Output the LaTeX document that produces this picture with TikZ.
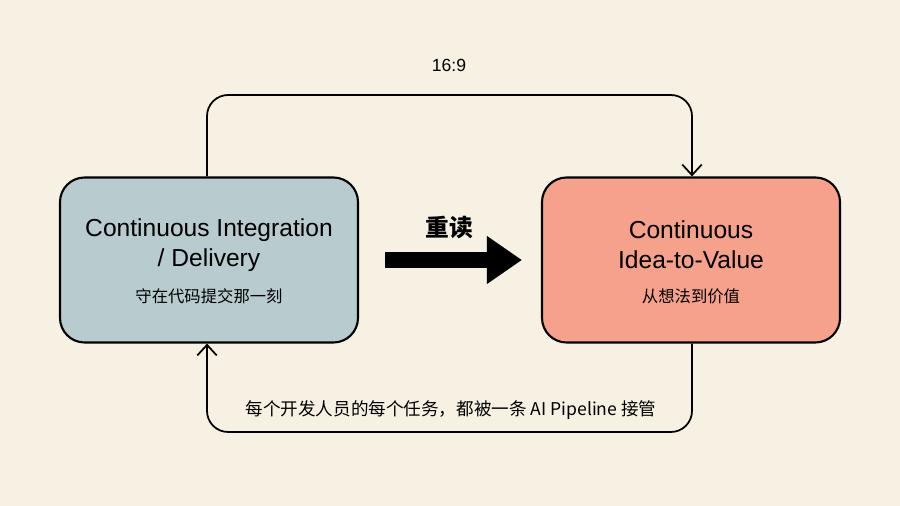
\documentclass[tikz,border=0pt]{standalone}
\usepackage{fontspec}
\setmainfont{Liberation Sans}
\newfontfamily\cjk{Noto Sans CJK SC}
\usetikzlibrary{arrows.meta,positioning}
\definecolor{paper}{HTML}{F7F1E3}
\definecolor{ciblue}{HTML}{B8CBCF}
\definecolor{idsalmon}{HTML}{F5A18B}
\begin{document}
\begin{tikzpicture}[x=0.02cm,y=-0.02cm,
  box/.style={draw=black,line width=1.2pt,rounded corners=14pt,minimum width=298*0.02cm,minimum height=165*0.02cm,align=center},
  loop/.style={line width=1pt,rounded corners=12pt,-{Straight Barb[length=6pt,width=11pt]}}]
\fill[paper] (0,0) rectangle (900,506);
\useasboundingbox (0,0) rectangle (900,506);
% the two boxes
\node[box,fill=ciblue] (ci) at (209,260) {};
\node[box,fill=idsalmon] (iv) at (691,260) {};
\node[font=\fontsize{14}{17}\selectfont,align=center] at (209,245) {Continuous Integration\\/ Delivery};
\node[font=\cjk\fontsize{9.3}{11}\selectfont] at (209,296) {守在代码提交那一刻};
\node[font=\fontsize{14}{17}\selectfont,align=center] at (691,245) {Continuous\\Idea-to-Value};
\node[font=\cjk\fontsize{9.3}{11}\selectfont] at (691,296) {从想法到价值};
% middle arrow
\coordinate (ma) at (385,260);
\coordinate (mb) at (522,260);
\draw[line width=9pt,-{Triangle[length=20pt,width=26pt]}] (ma) -- (mb);
\node[font=\cjk\bfseries\fontsize{13.5}{16}\selectfont] at (449,228) {重读};
% loops
\coordinate (tl) at (207,95);
\coordinate (tr) at (692,95);
\draw[loop] (ci.north -| tl) -- (tl) -- (tr) -- (iv.north -| tr);
\node[font=\fontsize{10}{12}\selectfont] at (449,65) {16:9};
\coordinate (bl) at (207,432);
\coordinate (br) at (692,432);
\draw[loop] (iv.south -| br) -- (br) -- (bl) -- (ci.south -| bl);
\node[font=\cjk\fontsize{10}{12}\selectfont] at (451,410) {每个开发人员的每个任务，都被一条 AI Pipeline 接管};
\end{tikzpicture}
\end{document}
